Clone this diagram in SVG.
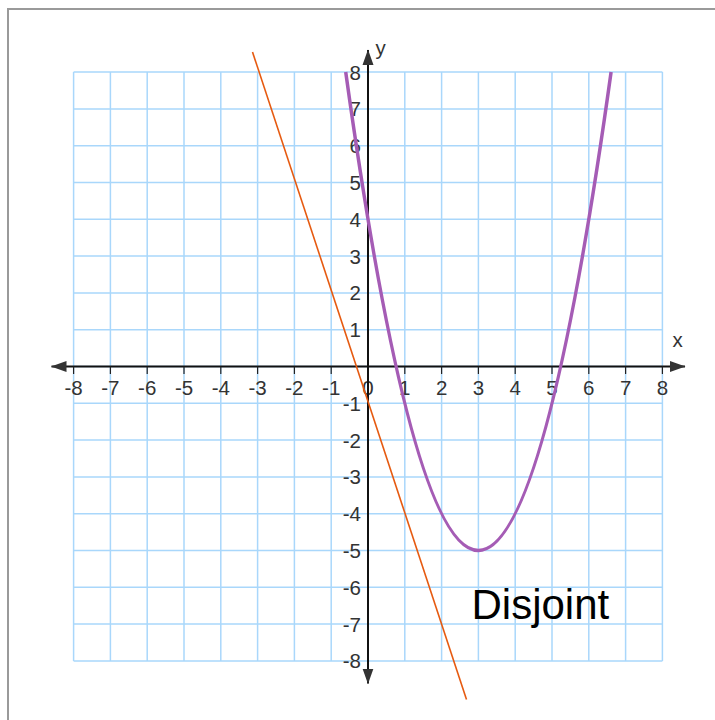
<svg xmlns="http://www.w3.org/2000/svg" width="715" height="720" viewBox="0 0 715 720">
<defs>
<style>
.grid line{stroke:#a9d7fb;stroke-width:1.5}
.axis{stroke:#111;stroke-width:2;fill:none}
.tick{stroke:#222;stroke-width:1.2}
.lbl{font-family:"Liberation Sans",Arial,sans-serif;font-size:20.5px;fill:#333}
.xl{text-anchor:middle}
.yl{text-anchor:end}
</style>
<marker id="ah" markerUnits="userSpaceOnUse" markerWidth="16" markerHeight="12" viewBox="0 0 16 12" refX="15" refY="6" orient="auto-start-reverse">
<path d="M0,0.5 L15.5,6 L0,11.5 z" fill="#333"/>
</marker>
</defs>
<rect x="0" y="0" width="715" height="720" fill="#fff"/>
<rect x="8" y="9" width="720" height="720" fill="none" stroke="#9a9a9a" stroke-width="2"/>
<g id="grid" class="grid">
<line x1="73.6" y1="72.1" x2="73.6" y2="660.9"/>
<line x1="110.4" y1="72.1" x2="110.4" y2="660.9"/>
<line x1="147.2" y1="72.1" x2="147.2" y2="660.9"/>
<line x1="184" y1="72.1" x2="184" y2="660.9"/>
<line x1="220.8" y1="72.1" x2="220.8" y2="660.9"/>
<line x1="257.6" y1="72.1" x2="257.6" y2="660.9"/>
<line x1="294.4" y1="72.1" x2="294.4" y2="660.9"/>
<line x1="331.2" y1="72.1" x2="331.2" y2="660.9"/>
<line x1="368" y1="72.1" x2="368" y2="660.9"/>
<line x1="404.8" y1="72.1" x2="404.8" y2="660.9"/>
<line x1="441.6" y1="72.1" x2="441.6" y2="660.9"/>
<line x1="478.4" y1="72.1" x2="478.4" y2="660.9"/>
<line x1="515.2" y1="72.1" x2="515.2" y2="660.9"/>
<line x1="552" y1="72.1" x2="552" y2="660.9"/>
<line x1="588.8" y1="72.1" x2="588.8" y2="660.9"/>
<line x1="625.6" y1="72.1" x2="625.6" y2="660.9"/>
<line x1="662.4" y1="72.1" x2="662.4" y2="660.9"/>
<line x1="73.6" y1="72.1" x2="662.4" y2="72.1"/>
<line x1="73.6" y1="108.9" x2="662.4" y2="108.9"/>
<line x1="73.6" y1="145.7" x2="662.4" y2="145.7"/>
<line x1="73.6" y1="182.5" x2="662.4" y2="182.5"/>
<line x1="73.6" y1="219.3" x2="662.4" y2="219.3"/>
<line x1="73.6" y1="256.1" x2="662.4" y2="256.1"/>
<line x1="73.6" y1="292.9" x2="662.4" y2="292.9"/>
<line x1="73.6" y1="329.7" x2="662.4" y2="329.7"/>
<line x1="73.6" y1="366.5" x2="662.4" y2="366.5"/>
<line x1="73.6" y1="403.3" x2="662.4" y2="403.3"/>
<line x1="73.6" y1="440.1" x2="662.4" y2="440.1"/>
<line x1="73.6" y1="476.9" x2="662.4" y2="476.9"/>
<line x1="73.6" y1="513.7" x2="662.4" y2="513.7"/>
<line x1="73.6" y1="550.5" x2="662.4" y2="550.5"/>
<line x1="73.6" y1="587.3" x2="662.4" y2="587.3"/>
<line x1="73.6" y1="624.1" x2="662.4" y2="624.1"/>
<line x1="73.6" y1="660.9" x2="662.4" y2="660.9"/>
</g>
<g id="x-labels" class="lbl xl">
<text x="73.6" y="394.5">-8</text>
<text x="110.4" y="394.5">-7</text>
<text x="147.2" y="394.5">-6</text>
<text x="184" y="394.5">-5</text>
<text x="220.8" y="394.5">-4</text>
<text x="257.6" y="394.5">-3</text>
<text x="294.4" y="394.5">-2</text>
<text x="331.2" y="394.5">-1</text>
<text x="368" y="394.5">0</text>
<text x="404.8" y="394.5">1</text>
<text x="441.6" y="394.5">2</text>
<text x="478.4" y="394.5">3</text>
<text x="515.2" y="394.5">4</text>
<text x="552" y="394.5">5</text>
<text x="588.8" y="394.5">6</text>
<text x="625.6" y="394.5">7</text>
<text x="662.4" y="394.5">8</text>
</g>
<g id="y-labels" class="lbl yl">
<text x="361" y="79.6">8</text>
<text x="361" y="116.4">7</text>
<text x="361" y="153.2">6</text>
<text x="361" y="190">5</text>
<text x="361" y="226.8">4</text>
<text x="361" y="263.6">3</text>
<text x="361" y="300.4">2</text>
<text x="361" y="337.2">1</text>
<text x="361" y="410.8">-1</text>
<text x="361" y="447.6">-2</text>
<text x="361" y="484.4">-3</text>
<text x="361" y="521.2">-4</text>
<text x="361" y="558">-5</text>
<text x="361" y="594.8">-6</text>
<text x="361" y="631.6">-7</text>
<text x="361" y="668.4">-8</text>
</g>
<g id="axes">
<line class="axis" x1="51.5" y1="366.5" x2="685" y2="366.5" marker-start="url(#ah)" marker-end="url(#ah)"/>
<line class="axis" x1="368" y1="683.5" x2="368" y2="50" marker-start="url(#ah)" marker-end="url(#ah)"/>
<g class="tick">
<line x1="73.6" y1="366.5" x2="73.6" y2="374"/>
<line x1="110.4" y1="366.5" x2="110.4" y2="374"/>
<line x1="147.2" y1="366.5" x2="147.2" y2="374"/>
<line x1="184" y1="366.5" x2="184" y2="374"/>
<line x1="220.8" y1="366.5" x2="220.8" y2="374"/>
<line x1="257.6" y1="366.5" x2="257.6" y2="374"/>
<line x1="294.4" y1="366.5" x2="294.4" y2="374"/>
<line x1="331.2" y1="366.5" x2="331.2" y2="374"/>
<line x1="404.8" y1="366.5" x2="404.8" y2="374"/>
<line x1="441.6" y1="366.5" x2="441.6" y2="374"/>
<line x1="478.4" y1="366.5" x2="478.4" y2="374"/>
<line x1="515.2" y1="366.5" x2="515.2" y2="374"/>
<line x1="552" y1="366.5" x2="552" y2="374"/>
<line x1="588.8" y1="366.5" x2="588.8" y2="374"/>
<line x1="625.6" y1="366.5" x2="625.6" y2="374"/>
<line x1="662.4" y1="366.5" x2="662.4" y2="374"/>
</g>
<text class="lbl" x="677.5" y="347" text-anchor="middle">x</text>
<text class="lbl" x="375.5" y="55">y</text>
</g>
<g id="connectors">
<path id="parabola" d="M345.71,72.1 Q478.4,1028.9 611.09,72.1" fill="none" stroke="#a55cb5" stroke-width="3.5"/>
<line id="line" x1="252.5" y1="52" x2="466.5" y2="699.5" stroke="#e65a10" stroke-width="1.6"/>
</g>
<g id="label-disjoint">
<text x="471.5" y="618.5" font-family="'Liberation Sans',Arial,sans-serif" font-size="42" fill="#000">Disjoint</text>
</g>
</svg>
